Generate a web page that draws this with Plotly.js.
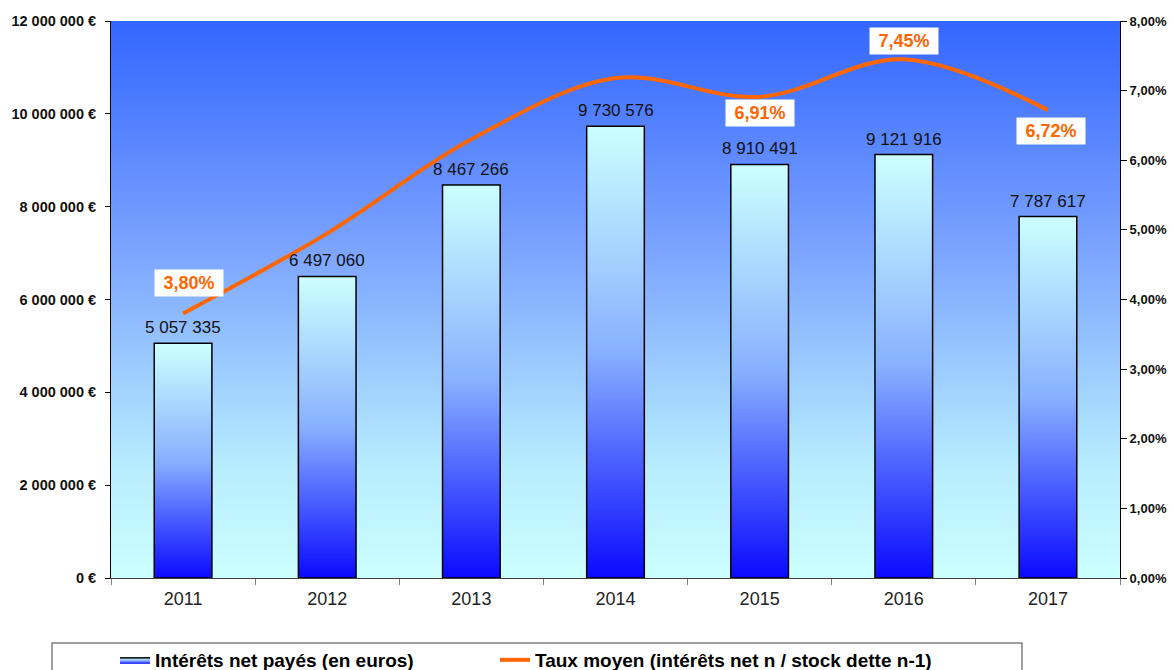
<!DOCTYPE html>
<html>
<head>
<meta charset="utf-8">
<script src="https://cdn.plot.ly/plotly-3.0.1.min.js"></script>
<style>
  body { margin: 0; background: #fff; }
  #chart { width: 1174px; height: 670px; }
</style>
</head>
<body>
<div id="chart"></div>
<script>
// données
const years = ['2011', '2012', '2013', '2014', '2015', '2016', '2017'];
const interets = [5057335, 6497060, 8467266, 9730576, 8910491, 9121916, 7787617];
const taux = [3.80, 4.95, 6.30, 7.18, 6.91, 7.45, 6.72];
const tauxAffiche = [true, false, false, false, true, true, true];

const nomBarres = 'Intérêts net payés (en euros)';
const nomTaux = 'Taux moyen (intérêts net n / stock dette n-1)';

const yMax = 12000000;
const halfW = 0.2;
const orange = '#ff6600';
const police = 'Liberation Sans, Arial, sans-serif';

// décalage des étiquettes de taux (px)
const decalage = { 0: [6, 30], 4: [0, -16], 5: [0, 18], 6: [3, -21] };

function drawChart() {
    const xs = years.map((y, i) => i);

    // fond dégradé de la zone de tracé
    const fond = {
        type: 'scatter', mode: 'none',
        x: [-0.5, 6.5, 6.5, -0.5, -0.5],
        y: [0, 0, yMax, yMax, 0],
        fill: 'toself',
        fillgradient: {
            type: 'vertical',
            colorscale: [[0, '#ccffff'], [0.2, '#b8ecff'], [0.6, '#7aa2ff'], [1, '#3366ff']]
        },
        showlegend: false, hoverinfo: 'skip'
    };

    const barres = interets.map((v, i) => ({
        type: 'scatter', mode: 'lines',
        x: [xs[i] - halfW, xs[i] + halfW, xs[i] + halfW, xs[i] - halfW, xs[i] - halfW],
        y: [0, 0, v, v, 0],
        fill: 'toself',
        fillgradient: {
            type: 'vertical',
            colorscale: [[0, '#0a0aff'], [0.5, '#88b0ff'], [1, '#ccffff']]
        },
        line: { color: '#000', width: 1.5 },
        name: nomBarres,
        legendgroup: 'barres',
        showlegend: i === 0,
        hoverinfo: 'skip'
    }));

    const ligne = {
        type: 'scatter', mode: 'lines',
        x: xs, y: taux.map(t => t / 100),
        yaxis: 'y2',
        line: { color: orange, width: 4, shape: 'spline', smoothing: 1 },
        name: nomTaux,
        legend: 'legend2'
    };

    const fmt = n => String(n).replace(/\B(?=(\d{3})+(?!\d))/g, ' ');

    const annotations = interets.map((v, i) => ({
        x: xs[i], y: v, xref: 'x', yref: 'y',
        text: fmt(v), showarrow: false,
        yanchor: 'bottom', yshift: 4,
        font: { family: police, size: 17, color: '#111' }
    }));

    taux.forEach((t, i) => {
        if (!tauxAffiche[i]) return;
        const d = decalage[i] || [0, 20];
        annotations.push({
            x: xs[i], y: t / 100, xref: 'x', yref: 'y2',
            text: t.toFixed(2).replace('.', ',') + '%',
            showarrow: false,
            xshift: d[0], yshift: d[1],
            bgcolor: '#fff', borderpad: 3, width: 62, height: 20,
            font: { family: police, size: 18, color: orange, weight: 'bold' }
        });
    });

    const L = 111, R = 1120, T = 21, B = 578;
    const px = v => (v - L) / (R - L);
    const py = v => (B - v) / (B - T);

    const legendStyle = {
        orientation: 'h', xanchor: 'left',
        y: py(641), yanchor: 'top',
        bgcolor: 'rgba(0,0,0,0)', borderwidth: 0,
        font: { size: 19, weight: 'bold', color: '#000' }
    };

    const layout = {
        width: 1174, height: 670,
        margin: { l: 111, r: 54, t: 21, b: 92, autoexpand: false },
        separators: ', ',
        font: { family: police, color: '#000' },
        paper_bgcolor: '#fff', plot_bgcolor: '#fff',
        showlegend: true,
        xaxis: {
            range: [-0.5, 6.5],
            tickvals: xs, ticktext: years,
            ticks: '', showgrid: false, zeroline: false,
            showline: true, linecolor: '#404040', linewidth: 1,
            ticklabelstandoff: 4,
            tickfont: { size: 18, color: '#222' },
            minor: { tick0: 0.5, dtick: 1, ticks: 'outside', ticklen: 6, tickcolor: '#808080', showgrid: false }
        },
        yaxis: {
            range: [0, yMax], dtick: 2000000,
            tickformat: ',d', ticksuffix: ' €',
            ticks: 'outside', ticklen: 5, tickcolor: '#000',
            ticklabelstandoff: 6,
            showgrid: false, zeroline: false,
            showline: true, linecolor: '#000', linewidth: 1,
            tickfont: { size: 14.5, weight: 'bold', color: '#111' }
        },
        yaxis2: {
            overlaying: 'y', side: 'right',
            range: [0, 0.08], dtick: 0.01, tickformat: '.2%',
            ticks: 'outside', ticklen: 6, tickcolor: '#000',
            showgrid: false, zeroline: false,
            showline: true, linecolor: '#000', linewidth: 1,
            tickfont: { size: 13, weight: 'bold', color: '#111' }
        },
        legend: Object.assign({}, legendStyle, { x: px(115) }),
        legend2: Object.assign({}, legendStyle, { x: px(495) }),
        shapes: [{
            type: 'rect', xref: 'paper', yref: 'paper',
            x0: px(52), x1: px(1022), y0: py(700), y1: py(643),
            line: { color: '#808080', width: 1.5 }
        }],
        annotations: annotations
    };

    Plotly.newPlot('chart', [fond, ...barres, ligne], layout, { displayModeBar: false });
}

drawChart();
</script>
</body>
</html>
